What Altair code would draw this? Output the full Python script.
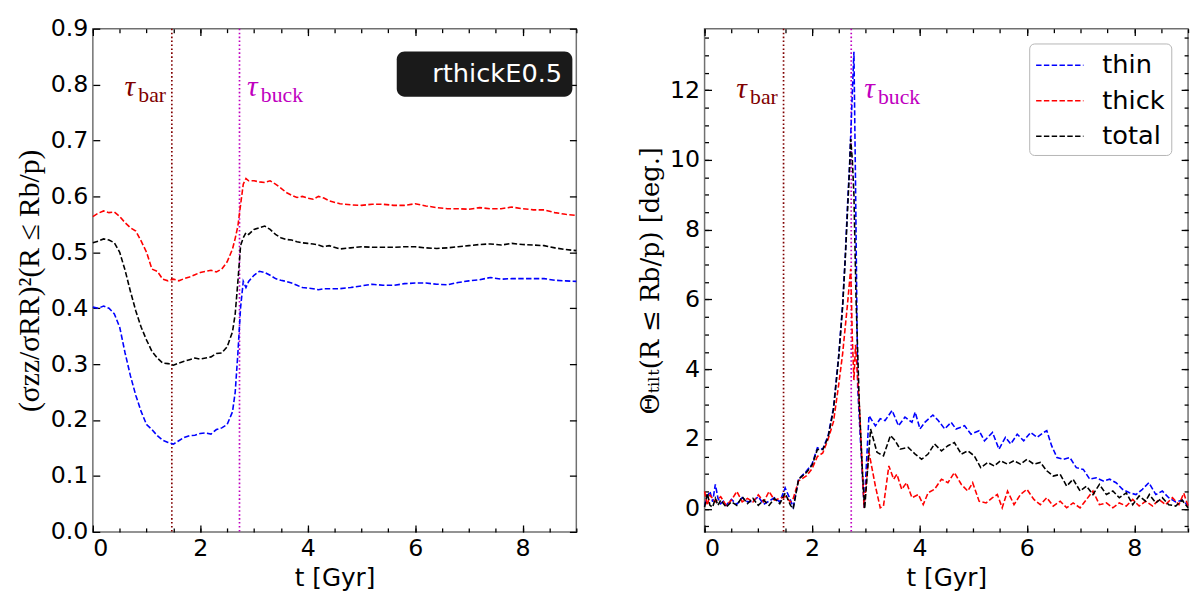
import altair as alt
import pandas as pd

# ---- left panel: (sigma_zz / sigma_RR)^2 inside the b/p region ----
left_t = [0.0, 0.1, 0.2, 0.3, 0.4, 0.5, 0.6, 0.7, 0.8, 0.9, 1.0, 1.1, 1.2, 1.3,
          1.4, 1.5, 1.6, 1.7, 1.8, 1.9, 2.0, 2.1, 2.2, 2.3, 2.4, 2.5, 2.6,
          2.65, 2.7, 2.75, 2.8, 2.85, 2.9,
          3.0, 3.1, 3.2, 3.3, 3.4, 3.5, 3.6, 3.7, 3.8, 3.9, 4.0, 4.1, 4.2, 4.3,
          4.4, 4.6, 4.8, 5.0, 5.2, 5.4, 5.6, 5.8, 6.0, 6.2, 6.4, 6.6, 6.8, 7.0,
          7.2, 7.4, 7.6, 7.8, 8.0, 8.2, 8.4, 8.6, 8.8, 9.0]
left_thin = [0.402, 0.400, 0.404, 0.400, 0.390, 0.366, 0.320, 0.279, 0.244, 0.215,
             0.192, 0.183, 0.172, 0.164, 0.160, 0.157, 0.163, 0.169, 0.172, 0.173,
             0.176, 0.177, 0.175, 0.183, 0.186, 0.192, 0.215,
             0.250, 0.320, 0.401, 0.448, 0.437, 0.448,
             0.459, 0.466, 0.464, 0.459, 0.453, 0.450, 0.448, 0.445, 0.441, 0.437,
             0.436, 0.435, 0.433, 0.435,
             0.435, 0.435, 0.437, 0.440, 0.443, 0.441, 0.441, 0.444, 0.445, 0.445,
             0.443, 0.442, 0.446, 0.449, 0.451, 0.455, 0.452, 0.453, 0.453, 0.453,
             0.453, 0.450, 0.449, 0.448]
left_thick = [0.564, 0.570, 0.574, 0.571, 0.572, 0.564, 0.553, 0.544, 0.538, 0.520,
              0.500, 0.470, 0.466, 0.452, 0.449, 0.452, 0.449, 0.453, 0.456, 0.460,
              0.464, 0.466, 0.468, 0.465, 0.470, 0.483, 0.506,
              0.525, 0.547, 0.585, 0.622, 0.632, 0.628,
              0.628, 0.626, 0.625, 0.628, 0.622, 0.615, 0.607, 0.602, 0.598, 0.600,
              0.597, 0.595, 0.600, 0.597,
              0.592, 0.587, 0.585, 0.584, 0.586, 0.586, 0.584, 0.584, 0.587, 0.583,
              0.580, 0.578, 0.578, 0.577, 0.580, 0.578, 0.578, 0.581, 0.578, 0.576,
              0.576, 0.571, 0.568, 0.566]
left_total = [0.517, 0.520, 0.524, 0.522, 0.517, 0.500, 0.468, 0.430, 0.395, 0.366,
              0.343, 0.323, 0.311, 0.302, 0.301, 0.298, 0.302, 0.305, 0.308, 0.311,
              0.309, 0.311, 0.313, 0.319, 0.320, 0.331, 0.358,
              0.390, 0.448, 0.512, 0.526, 0.535, 0.532,
              0.541, 0.544, 0.547, 0.541, 0.532, 0.526, 0.523, 0.522, 0.519, 0.517,
              0.516, 0.515, 0.513, 0.510,
              0.512, 0.506, 0.508, 0.510, 0.509, 0.509, 0.509, 0.510, 0.510, 0.508,
              0.507, 0.508, 0.510, 0.512, 0.514, 0.515, 0.513, 0.516, 0.514, 0.513,
              0.512, 0.508, 0.505, 0.503]

# ---- right panel: tilt angle inside the b/p region [deg] ----
right_t_thin = [0.0, 0.05, 0.1, 0.15, 0.2, 0.25, 0.3, 0.35, 0.4, 0.5, 0.6, 0.7, 0.8,
                0.9, 1.0, 1.1, 1.2, 1.3, 1.4, 1.5, 1.58, 1.65, 1.75, 1.9, 2.0, 2.1,
                2.2, 2.3, 2.4, 2.5, 2.57, 2.62, 2.66, 2.7, 2.74, 2.78, 2.81, 2.85,
                2.9, 2.97, 3.06, 3.18, 3.27, 3.36, 3.49, 3.61, 3.73, 3.86, 3.92,
                4.01, 4.1, 4.25, 4.35, 4.47, 4.59, 4.68, 4.84, 4.96, 5.11, 5.21,
                5.36, 5.48, 5.6, 5.7, 5.82, 5.94, 6.07, 6.19, 6.31, 6.37, 6.46,
                6.56, 6.68, 6.8, 6.92, 7.05, 7.17, 7.29, 7.42, 7.54, 7.66, 7.78,
                7.91, 8.03, 8.15, 8.27, 8.4, 8.52, 8.64, 8.77, 8.89, 9.0]
right_thin = [0.10, 0.35, 0.50, 0.20, 0.70, 0.30, 0.15, 0.22, 0.10, 0.27, 0.13, 0.32,
              0.20, 0.22, 0.35, 0.13, 0.22, 0.32, 0.20, 0.60, 0.32, 0.05, 0.85, 1.09,
              1.28, 1.75, 1.71, 2.10, 2.90, 4.45, 5.86, 7.27, 8.68, 9.89, 11.5, 13.1,
              9.3, 3.5, 2.0, 0.03, 2.67, 2.38, 2.58, 2.53, 2.82, 2.38, 2.63, 2.48,
              2.77, 2.29, 2.48, 2.69, 2.53, 2.29, 2.48, 2.29, 2.38, 2.14, 2.24, 1.95,
              2.19, 1.71, 2.05, 1.86, 2.14, 1.95, 2.19, 2.05, 2.19, 2.24, 1.81, 1.47,
              1.42, 1.47, 1.18, 1.13, 0.85, 0.89, 0.80, 0.85, 0.75, 0.56, 0.46, 0.41,
              0.56, 0.75, 0.41, 0.51, 0.32, 0.20, 0.25, 0.10]
right_t_thick = [0.0, 0.05, 0.1, 0.2, 0.3, 0.4, 0.5, 0.6, 0.7, 0.8, 0.9, 1.0, 1.1, 1.2,
                 1.3, 1.4, 1.5, 1.6, 1.65, 1.75, 1.8, 1.9, 2.0, 2.1, 2.2, 2.3, 2.4,
                 2.5, 2.57, 2.66, 2.72, 2.75, 2.78, 2.81, 2.88, 2.97, 3.06, 3.18,
                 3.27, 3.33, 3.43, 3.52, 3.58, 3.67, 3.76, 3.86, 3.98, 4.07, 4.16,
                 4.28, 4.41, 4.53, 4.65, 4.78, 4.9, 4.99, 5.11, 5.24, 5.36, 5.45,
                 5.54, 5.64, 5.76, 5.88, 6.0, 6.13, 6.25, 6.37, 6.49, 6.62, 6.74,
                 6.86, 6.99, 7.11, 7.23, 7.35, 7.48, 7.6, 7.72, 7.85, 7.97, 8.09,
                 8.21, 8.34, 8.46, 8.58, 8.71, 8.83, 8.92, 9.0]
right_thick = [0.50, 0.10, 0.40, 0.20, 0.35, 0.10, 0.25, 0.50, 0.20, 0.30, 0.20, 0.40,
               0.20, 0.50, 0.25, 0.30, 0.35, 0.20, 0.30, 0.80, 0.85, 0.95, 1.15, 1.50,
               1.60, 2.00, 2.50, 3.60, 4.45, 5.86, 6.88, 4.90, 3.69, 4.70, 3.00, 0.03,
               1.62, 0.65, 0.03, 0.08, 1.23, 0.85, 0.99, 0.56, 0.75, 0.32, 0.41, 0.12,
               0.46, 0.56, 0.85, 0.75, 1.04, 0.70, 0.51, 0.75, 0.22, 0.17, 0.32, 0.41,
               0.03, 0.51, 0.12, 0.41, 0.56, 0.27, 0.12, 0.32, 0.08, 0.22, 0.03, 0.17,
               0.03, 0.27, 0.51, 0.12, 0.17, 0.03, 0.17, 0.08, 0.27, 0.08, 0.22, 0.08,
               0.27, 0.12, 0.32, 0.12, 0.45, 0.08]
right_t_total = [0.0, 0.05, 0.1, 0.15, 0.2, 0.25, 0.3, 0.4, 0.5, 0.6, 0.7, 0.8, 0.9,
                 1.0, 1.1, 1.2, 1.3, 1.4, 1.5, 1.6, 1.65, 1.75, 1.9, 2.0, 2.1, 2.2,
                 2.3, 2.4, 2.5, 2.57, 2.62, 2.66, 2.7, 2.72, 2.75, 2.78, 2.82, 2.88,
                 2.94, 2.98, 3.09, 3.21, 3.33, 3.46, 3.55, 3.64, 3.79, 3.92, 4.04,
                 4.16, 4.28, 4.41, 4.53, 4.65, 4.78, 4.9, 5.02, 5.14, 5.27, 5.39,
                 5.51, 5.64, 5.76, 5.88, 6.0, 6.13, 6.25, 6.37, 6.49, 6.62, 6.74,
                 6.86, 6.99, 7.11, 7.23, 7.35, 7.48, 7.6, 7.72, 7.85, 7.97, 8.09,
                 8.21, 8.28, 8.4, 8.52, 8.64, 8.77, 8.89, 9.0]
right_total = [0.05, 0.45, 0.10, 0.05, 0.30, 0.10, 0.25, 0.05, 0.20, 0.10, 0.35, 0.15,
               0.30, 0.10, 0.25, 0.10, 0.30, 0.15, 0.45, 0.10, 0.00, 0.85, 1.05, 1.25,
               1.70, 1.70, 2.05, 2.85, 4.40, 5.80, 7.20, 8.50, 9.80, 10.6, 10.0, 9.0,
               6.0, 3.0, 1.0, 0.0, 2.29, 1.62, 1.52, 2.10, 1.95, 1.71, 1.76, 1.57,
               1.42, 1.57, 1.86, 1.66, 1.81, 1.90, 1.57, 1.66, 1.52, 1.18, 1.33, 1.23,
               1.38, 1.28, 1.38, 1.28, 1.42, 1.28, 1.33, 1.09, 0.94, 0.99, 0.65, 0.85,
               0.51, 0.65, 0.41, 0.70, 0.41, 0.51, 0.32, 0.46, 0.12, 0.37, 0.22, 0.41,
               0.17, 0.32, 0.12, 0.08, 0.25, 0.03]

components = ["thin", "thick", "total"]
component_colors = ["#0000ff", "#ff0000", "#000000"]

# event times [Gyr]
event_names = ["bar", "buck"]
event_times = [1.47, 2.73]
event_colors = ["#800000", "#bf00bf"]

x_major = [0, 2, 4, 6, 8]
x_minor = [0.5 * i for i in range(19)]
left_y_major = [round(0.1 * i, 1) for i in range(10)]
right_y_major = [0, 2, 4, 6, 8, 10, 12]
right_y_minor = [0.5 * i for i in range(-1, 28)]

DASH = [5.5, 2.4]
W, H = 490, 510


def long_df(series):
    return pd.concat(
        [pd.DataFrame({"t": t, "v": v, "component": c}) for c, (t, v) in series.items()],
        ignore_index=True,
    )


left_df = long_df({
    "thin": (left_t, left_thin),
    "thick": (left_t, left_thick),
    "total": (left_t, left_total),
})
right_df = long_df({
    "thin": (right_t_thin, right_thin),
    "thick": (right_t_thick, right_thick),
    "total": (right_t_total, right_total),
})
events_df = pd.DataFrame({"name": event_names, "t": event_times, "color": event_colors})


def panel(df, y_domain, y_major, y_minor, y_fmt, y_title, title_font, title_size,
          label_pos, legend, badge=None):
    xs = alt.Scale(domain=[0, 9], nice=False, zero=False)
    ys = alt.Scale(domain=y_domain, nice=False, zero=False)

    # matplotlib-style inward ticks: tick-only axes pulled inside the frame
    def tick_layer(xo, yo, xv, yv, size):
        return alt.Chart(df).mark_point(opacity=0).encode(
            x=alt.X("t:Q", scale=xs, axis=alt.Axis(
                orient=xo, values=xv, tickSize=size, offset=-size, labels=False,
                domain=False, grid=False, title=None, tickWidth=1.3)),
            y=alt.Y("v:Q", scale=ys, axis=alt.Axis(
                orient=yo, values=yv, tickSize=size, offset=-size, labels=False,
                domain=False, grid=False, title=None, tickWidth=1.3)),
        )

    rules = alt.Chart(events_df).mark_rule(strokeDash=[1.6, 2.4], strokeWidth=1.7).encode(
        x=alt.X("t:Q", scale=xs, axis=None),
        color=alt.Color("color:N", scale=None),
    )

    lines = alt.Chart(df).mark_line(strokeDash=DASH, strokeWidth=1.6).encode(
        x=alt.X("t:Q", scale=xs, axis=alt.Axis(
            orient="bottom", values=x_major, format="d", ticks=False, domain=False,
            grid=False, labelPadding=5, title="t [Gyr]", titlePadding=5)),
        y=alt.Y("v:Q", scale=ys, axis=alt.Axis(
            orient="left", values=y_major, format=y_fmt, ticks=False, domain=False,
            grid=False, labelPadding=5, title=y_title, titleFont=title_font,
            titleFontSize=title_size, titlePadding=6)),
        color=alt.Color("component:N", scale=alt.Scale(domain=components, range=component_colors),
                        legend=legend),
    )

    lab = pd.DataFrame({
        "t": [p[0] for p in label_pos],
        "v": [p[1] for p in label_pos],
        "sub": event_names,
        "color": event_colors,
    })
    tau = alt.Chart(lab).mark_text(
        text="τ", font="Liberation Serif", fontStyle="italic", fontSize=30,
        align="left", baseline="alphabetic",
    ).encode(
        x=alt.X("t:Q", scale=xs, axis=None),
        y=alt.Y("v:Q", scale=ys, axis=None),
        color=alt.Color("color:N", scale=None),
    )
    sub = alt.Chart(lab).mark_text(
        font="Liberation Serif", fontSize=22, align="left", baseline="alphabetic", dx=14, dy=6,
    ).encode(
        x=alt.X("t:Q", scale=xs, axis=None),
        y=alt.Y("v:Q", scale=ys, axis=None),
        text="sub:N",
        color=alt.Color("color:N", scale=None),
    )

    layers = [
        rules, lines, tau, sub,
        tick_layer("bottom", "left", x_major, y_major, 7),
        tick_layer("top", "right", x_major, y_major, 7),
        tick_layer("bottom", "left", x_minor, y_minor, 4),
        tick_layer("top", "right", x_minor, y_minor, 4),
    ]
    if badge is not None:
        layers.append(badge)
    return alt.layer(*layers).resolve_axis(x="independent", y="independent").properties(
        width=W, height=H
    )


right_legend = alt.Legend(
    title=None, orient="none", legendX=329, legendY=15, fillColor="white",
    strokeColor="#b5b5b5", cornerRadius=5, padding=6, labelFont="DejaVu Sans",
    labelFontSize=26, labelColor="black", symbolType="M-1,0H2.2", symbolDash=DASH,
    symbolStrokeWidth=1.6, symbolSize=900, labelOffset=36, rowPadding=7,
)

badge_df = pd.DataFrame({"tag": ["rthickE0.5"]})
badge = alt.Chart(badge_df).mark_point(opacity=0).encode(
    shape=alt.Shape("tag:N", legend=alt.Legend(
        title=None, orient="none", legendX=308, legendY=23, fillColor="#1a1a1a",
        cornerRadius=8, padding=10, labelFont="DejaVu Sans", labelFontSize=26,
        labelColor="white", symbolOpacity=0, symbolSize=1, labelOffset=0,
        symbolStrokeWidth=0,
    )),
)

left = panel(left_df, [0, 0.9], left_y_major, [], ".1f",
             "(σzz/σRR)²(R ≤ Rb/p)", "Liberation Serif", 30,
             [(0.59, 0.78), (2.87, 0.78)], None, badge)
right = panel(right_df, [-0.66, 13.76], right_y_major, right_y_minor, "d",
              "Θₜᵢₗₜ(R ≤ Rb/p) [deg.]", "DejaVu Serif", 26,
              [(0.59, 11.77), (2.97, 11.77)], right_legend)

chart = (
    alt.hconcat(left, right, spacing=57)
    .resolve_scale(color="independent", shape="independent")
    .resolve_legend(color="independent", shape="independent")
    .properties(padding={"left": 6, "top": 4, "right": 0, "bottom": 0})
    .configure_view(stroke="#707070", strokeWidth=1.5)
    .configure_axis(
        labelFont="DejaVu Sans", labelFontSize=24, labelColor="black",
        titleFont="DejaVu Sans", titleFontSize=25, titleColor="black",
        titleFontWeight="normal", tickColor="black",
    )
)

chart.save("out.html", embed_options={"renderer": "svg", "actions": False})
